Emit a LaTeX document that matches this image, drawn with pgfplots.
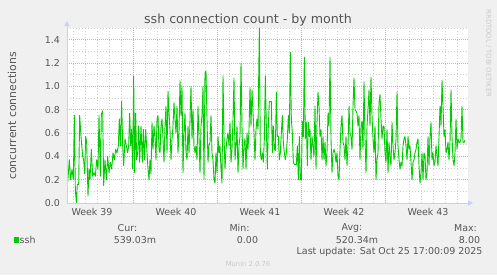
\documentclass[border=0pt]{standalone}
\usepackage{fontspec}
\setmainfont{DejaVu Sans}
\usepackage{pgfplots}
\pgfplotsset{compat=1.18}
\usetikzlibrary{arrows.meta}
\definecolor{bg}{HTML}{F0F0F0}
\definecolor{txt}{HTML}{555555}
\definecolor{mgrid}{HTML}{F0A0A0}
\definecolor{ngrid}{HTML}{CFCFCF}
\definecolor{lgreen}{HTML}{00CC00}
\definecolor{axiscol}{HTML}{C6D0F8}
\definecolor{wm}{HTML}{C8C8C8}
\newcommand{\axfont}{\fontsize{9.5}{11}\selectfont}
\begin{document}
\begin{tikzpicture}[x=1bp,y=1bp]
\path[use as bounding box,fill=bg] (0,0) rectangle (497,275);
\begin{axis}[
  at={(67bp,72bp)}, anchor=south west,
  scale only axis, width=401bp, height=175bp,
  xmin=201, xmax=1404, ymin=0, ymax=1.5,
  axis line style={draw=none},
  axis background/.style={fill=white},
  tick style={draw=none},
  xtick={276,528,780,1032,1284},
  xticklabels={Week 39,Week 40,Week 41,Week 42,Week 43},
  xmajorgrids=false,
  minor xtick={220,256,292,328,364,436,472,508,544,580,616,688,724,760,796,832,868,940,976,1012,1048,1084,1120,1192,1228,1264,1300,1336,1372},
  xminorgrids=true,
  ytick={0,0.2,0.4,0.6,0.8,1.0,1.2,1.4},
  minor ytick={0.1,0.3,0.5,0.7,0.9,1.1,1.3,1.5},
  ymajorgrids=true, yminorgrids=true,
  major grid style={mgrid, line width=0.7bp, dash pattern=on 0.8bp off 1.2bp},
  minor grid style={ngrid, line width=0.7bp, dash pattern=on 0.8bp off 2.2bp},
  ticklabel style={font=\axfont, text=txt},
  xticklabel style={yshift=-1.5bp},
  yticklabel style={xshift=-3.5bp, /pgf/number format/.cd, fixed, fixed zerofill, precision=1, assume math mode=true},
  clip=true,
]
\foreach \g in {400,652,904,1156} {
  \edef\temp{\noexpand\draw[mgrid, line width=0.7bp, dash pattern=on 0.8bp off 1.2bp] (axis cs:\g,0) -- (axis cs:\g,1.5);}
  \temp
}
\addplot[lgreen, line width=0.9bp, line join=round] coordinates {
(199,0.80) (200,0.29) (203,0.17) (208,0.37) (212,0.20) (216,0.29) (220,0.20) (223,0.75) (226,0.12) (229,0.00)
(232,0.16) (236,0.16) (239,0.75) (243,0.57) (248,0.40) (251,0.37) (254,0.25) (257,0.57) (260,0.52) (264,0.06)
(267,0.29) (270,0.20) (274,0.46) (278,0.23) (282,0.26) (286,0.23) (290,0.37) (294,0.29) (297,0.75) (301,0.23)
(304,0.76) (308,0.79) (311,0.15) (315,0.37) (319,0.20) (323,0.40) (327,0.26) (331,0.35) (335,0.29) (339,0.43)
(343,0.37) (347,0.46) (351,0.43) (355,0.49) (358,0.72) (361,0.49) (365,0.87) (368,0.49) (371,0.32) (375,0.55)
(379,0.49) (383,0.43) (386,0.49) (389,0.77) (392,0.49) (395,0.63) (398,0.29) (401,1.09) (404,0.26) (407,0.77)
(410,0.37) (413,0.43) (416,0.66) (419,0.35) (423,0.66) (427,0.35) (430,0.63) (433,0.37) (437,0.63) (441,0.43)
(444,0.29) (447,0.20) (450,0.37) (453,0.25) (456,0.69) (459,0.46) (462,0.66) (465,0.57) (468,0.37) (471,0.72)
(474,0.75) (477,0.46) (480,0.43) (483,0.66) (486,0.72) (489,0.55) (492,0.35) (495,0.66) (498,0.83) (501,0.43)
(504,0.96) (507,0.77) (510,0.63) (513,0.37) (516,0.55) (519,0.66) (522,0.86) (525,0.72) (528,0.60) (531,0.83)
(534,0.43) (537,0.60) (540,1.05) (543,0.75) (546,1.00) (549,0.26) (552,0.60) (555,0.77) (558,0.43) (561,0.37)
(564,0.66) (567,0.43) (570,0.72) (573,1.00) (576,0.55) (579,0.80) (582,0.49) (585,0.43) (588,0.49) (591,0.37)
(594,0.83) (597,0.57) (600,0.26) (603,0.66) (606,0.75) (609,1.00) (612,0.20) (615,1.12) (618,1.13) (621,0.72)
(624,0.35) (627,0.49) (630,0.52) (633,0.75) (636,0.43) (639,0.37) (642,0.20) (645,0.17) (648,0.43) (651,0.26)
(654,0.57) (657,0.43) (660,0.49) (663,0.29) (666,0.17) (669,1.09) (672,0.57) (675,0.29) (678,0.46) (681,0.55)
(684,0.60) (687,0.49) (690,0.69) (693,0.35) (696,0.46) (699,0.72) (702,1.07) (705,0.37) (708,0.49) (711,0.66)
(714,0.26) (717,0.49) (720,0.57) (723,1.20) (726,0.66) (729,0.29) (732,0.49) (735,0.55) (738,0.29) (741,0.60)
(744,0.46) (747,0.63) (750,0.99) (753,0.66) (756,0.97) (759,0.77) (762,0.60) (765,0.37) (768,0.63) (771,0.72)
(774,0.63) (778,1.50) (781,0.43) (784,0.37) (787,0.43) (790,0.35) (793,0.55) (796,1.09) (799,0.66) (802,0.29)
(805,0.66) (808,0.87) (811,0.87) (814,0.87) (817,0.43) (820,0.66) (823,0.46) (826,0.45) (829,0.95) (832,0.57)
(835,0.57) (838,0.37) (841,0.43) (844,0.60) (847,0.75) (850,0.52) (853,0.43) (856,0.37) (859,0.43) (862,0.55)
(865,0.75) (868,0.60) (871,1.29) (874,0.72) (877,0.60) (880,0.35) (883,0.33) (886,0.33) (889,0.33) (892,0.49)
(895,0.20) (898,0.57) (901,0.20) (904,0.20) (907,0.70) (910,0.57) (913,1.25) (916,0.55) (919,0.69) (922,0.32)
(925,0.69) (928,0.57) (930,0.63) (933,0.37) (936,0.57) (939,0.49) (942,0.40) (945,0.83) (948,0.29) (951,0.69)
(954,0.95) (957,0.83) (960,0.57) (963,0.63) (966,0.37) (969,0.57) (972,0.37) (975,0.52) (978,0.32) (981,0.43)
(984,0.77) (987,0.66) (990,1.25) (993,0.55) (996,0.26) (999,0.43) (1002,0.46) (1005,0.43) (1008,0.35) (1011,0.43)
(1014,0.23) (1017,0.20) (1020,0.46) (1023,0.66) (1026,0.75) (1029,0.52) (1032,0.49) (1035,0.37) (1038,0.57) (1041,0.32)
(1044,0.49) (1047,0.83) (1050,0.60) (1053,0.57) (1056,0.46) (1059,0.83) (1062,1.07) (1065,0.80) (1068,0.79) (1071,0.77)
(1074,0.66) (1077,0.75) (1080,0.37) (1083,0.66) (1086,0.70) (1089,0.46) (1092,1.04) (1095,0.55) (1098,0.26) (1101,0.66)
(1104,0.80) (1107,0.97) (1110,0.66) (1113,1.08) (1116,0.75) (1119,0.55) (1122,0.43) (1125,0.66) (1128,0.20) (1131,0.37)
(1134,0.43) (1137,0.86) (1140,0.93) (1143,0.72) (1146,0.55) (1149,0.66) (1152,0.66) (1155,0.43) (1158,0.35) (1161,0.63)
(1164,0.26) (1167,0.52) (1170,0.40) (1173,0.32) (1176,0.69) (1179,0.49) (1182,0.37) (1185,0.43) (1188,0.55) (1191,0.95)
(1194,0.49) (1197,0.37) (1200,0.29) (1203,0.35) (1206,0.32) (1209,0.49) (1212,0.55) (1215,0.57) (1218,0.49) (1221,0.37)
(1224,0.57) (1227,0.46) (1230,0.49) (1233,0.35) (1236,0.20) (1239,0.35) (1242,0.37) (1245,0.43) (1248,0.46) (1251,0.52)
(1254,0.55) (1257,0.32) (1260,0.17) (1263,0.26) (1266,0.43) (1269,0.20) (1272,0.43) (1275,0.40) (1278,0.20) (1281,0.26)
(1284,0.57) (1287,0.32) (1290,0.57) (1293,0.69) (1296,0.37) (1299,0.43) (1302,0.32) (1305,0.35) (1308,0.49) (1311,0.40)
(1314,0.32) (1317,0.57) (1320,0.83) (1323,0.66) (1326,1.05) (1329,0.83) (1332,0.57) (1335,0.63) (1338,0.43) (1341,0.46)
(1344,0.52) (1347,0.37) (1350,0.52) (1353,0.97) (1356,0.57) (1359,0.37) (1362,0.32) (1365,0.43) (1368,0.72) (1371,0.46)
(1374,0.55) (1377,0.52) (1380,0.52) (1383,0.55) (1386,0.83) (1389,0.52) (1392,0.52) (1395,0.54)
};
\end{axis}
\draw[axiscol, line width=1bp, -{Triangle[length=5bp,width=5bp]}] (67,72) -- (67,254);
\draw[axiscol, line width=1bp, -{Triangle[length=5bp,width=5bp]}] (67,72) -- (473,72);
\node[font=\fontsize{12.7}{14}\selectfont, text=txt] at (248,254.5) {ssh connection count - by month};
\node[font=\fontsize{10.9}{12}\selectfont, text=txt, rotate=90] at (12,159) {concurrent connections};
\begin{scope}[every node/.style={font=\axfont, text=txt}]
\node at (127.5,47) {Cur:};
\node at (239.5,47) {Min:};
\node at (352,47) {Avg:};
\node at (465.5,47) {Max:};
\node at (135,35) {539.03m};
\node at (247.5,35) {0.00};
\node at (357,35) {520.34m};
\node at (469.5,35) {8.00};
\node[anchor=west, inner sep=0] at (19.5,35) {ssh};
\node[anchor=east, inner sep=0] at (482.7,23.3) {Last update: Sat Oct 25 17:00:09 2025};
\end{scope}
\fill[lgreen] (14,32.3) rectangle (19.3,37.7);
\node[font=\fontsize{6.8}{8}\selectfont, text=wm] at (248,11) {Munin 2.0.76};
\node[font=\fontsize{6.8}{8}\selectfont, text=wm, rotate=-90] at (488.5,221.5) {RRDTOOL / TOBI OETIKER};
\end{tikzpicture}
\end{document}
